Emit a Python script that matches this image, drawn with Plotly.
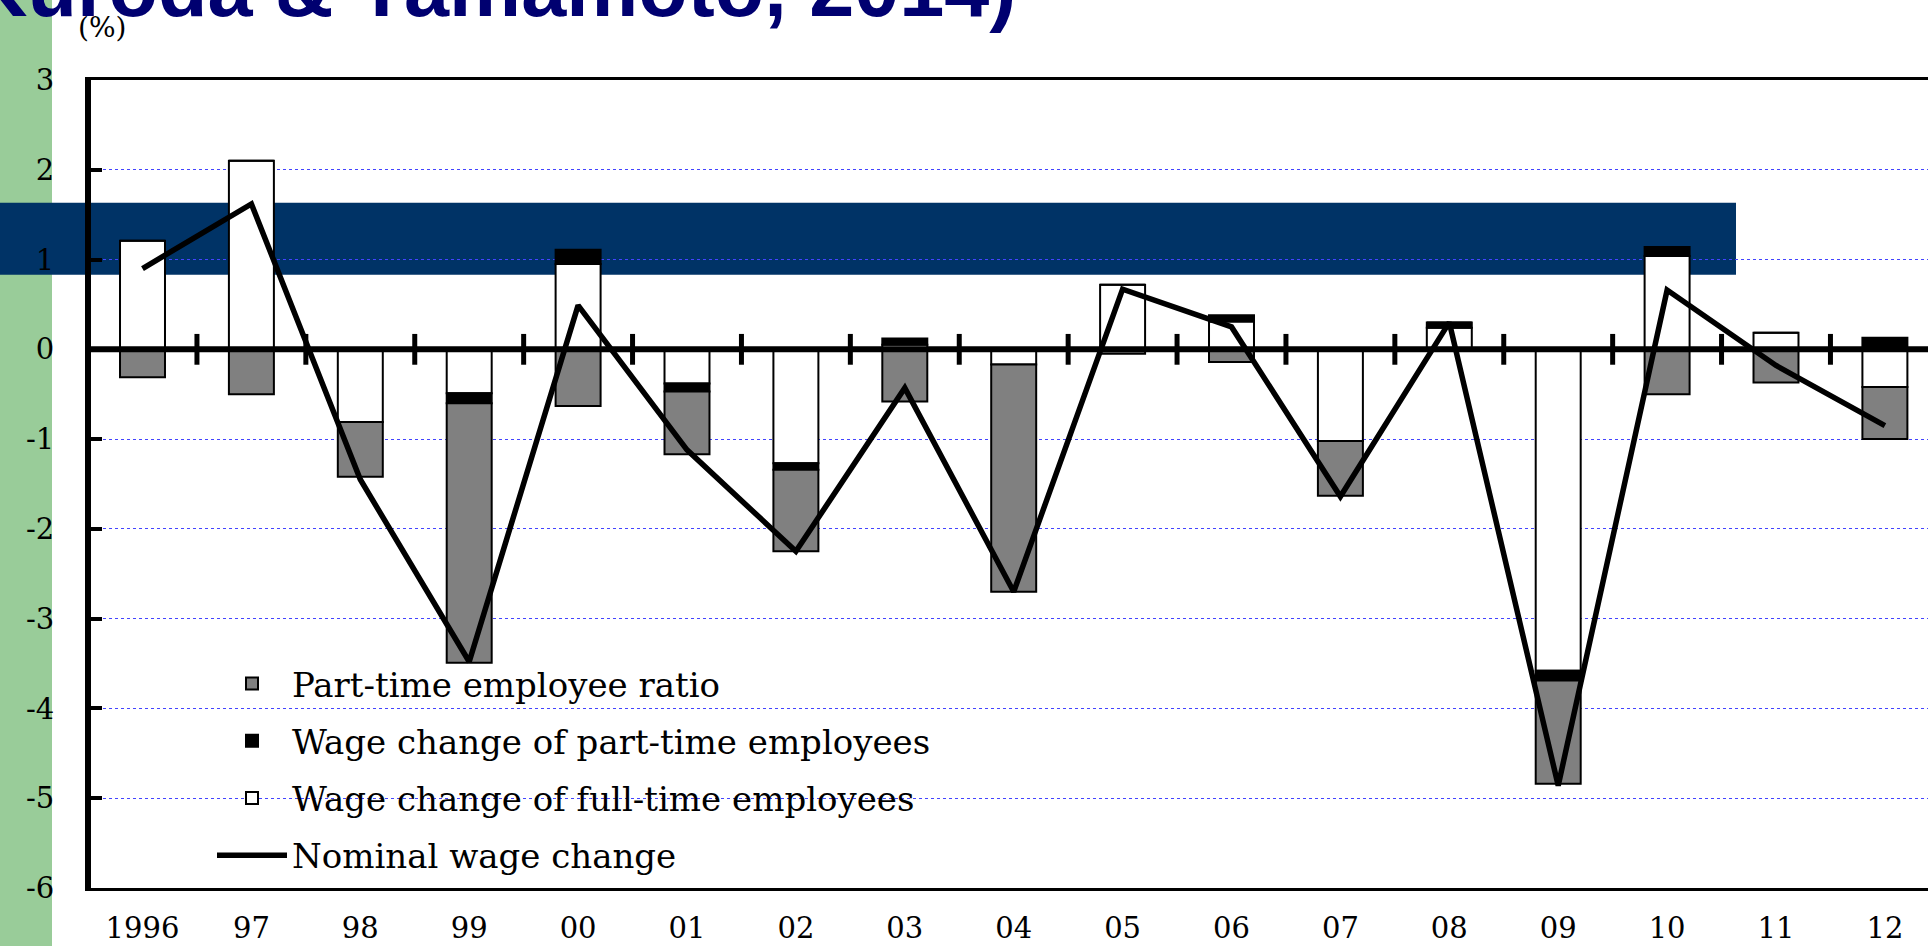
import plotly.graph_objects as go

# ---------------- data ----------------
years = ["1996", "97", "98", "99", "00", "01", "02", "03", "04",
         "05", "06", "07", "08", "09", "10", "11", "12"]
full_time_wage = [1.21, 2.10, -0.81, -0.49, 0.95, -0.38, -1.27, 0.05, -0.17,
                  0.72, 0.31, -1.02, 0.24, -3.58, 1.04, 0.185, -0.42]
part_time_wage = [0, 0, 0, -0.11, 0.16, -0.09, -0.07, 0.07, 0,
                  0, 0.07, 0, 0.06, -0.11, 0.10, 0, 0.13]
part_time_ratio = [-0.31, -0.50, -0.61, -2.89, -0.63, -0.70, -0.91, -0.58, -2.53,
                   -0.05, -0.14, -0.61, 0, -1.15, -0.50, -0.37, -0.58]
nominal_wage = [0.90, 1.62, -1.45, -3.48, 0.49, -1.12, -2.25, -0.43, -2.70,
                0.67, 0.25, -1.64, 0.30, -4.86, 0.66, -0.18, -0.85]
y_ticks = [3, 2, 1, 0, -1, -2, -3, -4, -5, -6]
y_ticktext = ["3", "2", "1", "0", "-1", "-2", "-3", "-4", "-5", "-6"]

# ---------------- geometry helpers (pixels -> paper) ----------------
FIG_W, FIG_H = 1928, 946
L, R, T, B = 91, 1928, 80, 888


def px_x(p):
    return (p - L) / (R - L)


def px_y(q):
    return (B - q) / (B - T)


SERIF = "DejaVu Serif"
idx = list(range(len(years)))
boundaries = [i + 0.5 for i in idx[:-1]]

fig = go.Figure()
fig.add_bar(x=idx, y=full_time_wage, name="Wage change of full-time employees",
            marker=dict(color="white", line=dict(color="black", width=2)),
            legendrank=3, legendgroup="c")
fig.add_bar(x=idx, y=part_time_wage, name="Wage change of part-time employees",
            marker=dict(color="black", line=dict(color="black", width=2)),
            legendrank=2, legendgroup="b")
fig.add_bar(x=idx, y=part_time_ratio, name="Part-time employee ratio",
            marker=dict(color="#808080", line=dict(color="black", width=2)),
            legendrank=1, legendgroup="a")
fig.add_scatter(x=idx, y=nominal_wage, mode="lines", name="Nominal wage change",
                line=dict(color="black", width=5.5), legendrank=4, legendgroup="d")
fig.add_scatter(x=boundaries, y=[0] * len(boundaries), mode="markers",
                marker=dict(symbol="line-ns", size=22, color="black",
                            line=dict(color="black", width=5)),
                showlegend=False, hoverinfo="skip")

cat_w = 108.9
x_first = 142.5
fig.update_layout(
    width=FIG_W, height=FIG_H,
    margin=dict(l=L, r=FIG_W - R, t=T, b=FIG_H - B, autoexpand=False),
    paper_bgcolor="white", plot_bgcolor="white",
    barmode="relative", bargap=1 - 0.413,
    showlegend=True,
    legend=dict(x=px_x(212), y=px_y(655), xanchor="left", yanchor="top",
                bgcolor="rgba(0,0,0,0)", borderwidth=0,
                font=dict(family=SERIF, size=34, color="black"),
                itemwidth=70, tracegroupgap=10),
    xaxis=dict(range=[(L - x_first) / cat_w, (R - x_first) / cat_w],
               tickmode="array", tickvals=idx, ticktext=years,
               showline=True, mirror=True, linecolor="black", linewidth=3,
               ticks="", showgrid=False, zeroline=False, automargin=False,
               tickfont=dict(family=SERIF, size=29, color="black"),
               ticklabelstandoff=12),
    yaxis=dict(range=[-6, 3], tickmode="array", tickvals=y_ticks, ticktext=y_ticktext,
               ticks="inside", ticklen=11, tickwidth=4, tickcolor="black",
               showline=True, linewidth=6, linecolor="black",
               showgrid=True, gridcolor="#4444ff", griddash="dot", gridwidth=1,
               zeroline=False, automargin=False,
               tickfont=dict(family=SERIF, size=29, color="black"),
               ticklabelstandoff=25),
    shapes=[
        dict(type="rect", xref="paper", yref="paper", layer="below",
             x0=px_x(-5), x1=px_x(52), y0=px_y(960), y1=px_y(-10),
             fillcolor="#99CC99", line=dict(width=0)),
        dict(type="rect", xref="paper", yref="paper", layer="below",
             x0=px_x(-5), x1=px_x(1736), y0=px_y(274.7), y1=px_y(202.7),
             fillcolor="#003366", line=dict(width=0)),
        dict(type="line", xref="paper", yref="y", layer="above",
             x0=0, x1=1, y0=0, y1=0, line=dict(color="black", width=6)),
    ],
    annotations=[
        dict(text="<b>(Kuroda & Yamamoto, 2014)</b>", xref="paper", yref="paper",
             x=px_x(-60), y=px_y(35), xanchor="left", yanchor="bottom",
             showarrow=False,
             font=dict(family="Liberation Sans", size=81, color="#000070")),
        dict(text="(%)", xref="paper", yref="paper",
             x=px_x(102), y=px_y(28), xanchor="center", yanchor="middle",
             showarrow=False, font=dict(family=SERIF, size=28, color="black")),
    ],
)

fig.write_html("out.html", config={"displayModeBar": False},
               post_script="document.body.style.margin='0';document.body.style.padding='0';")
